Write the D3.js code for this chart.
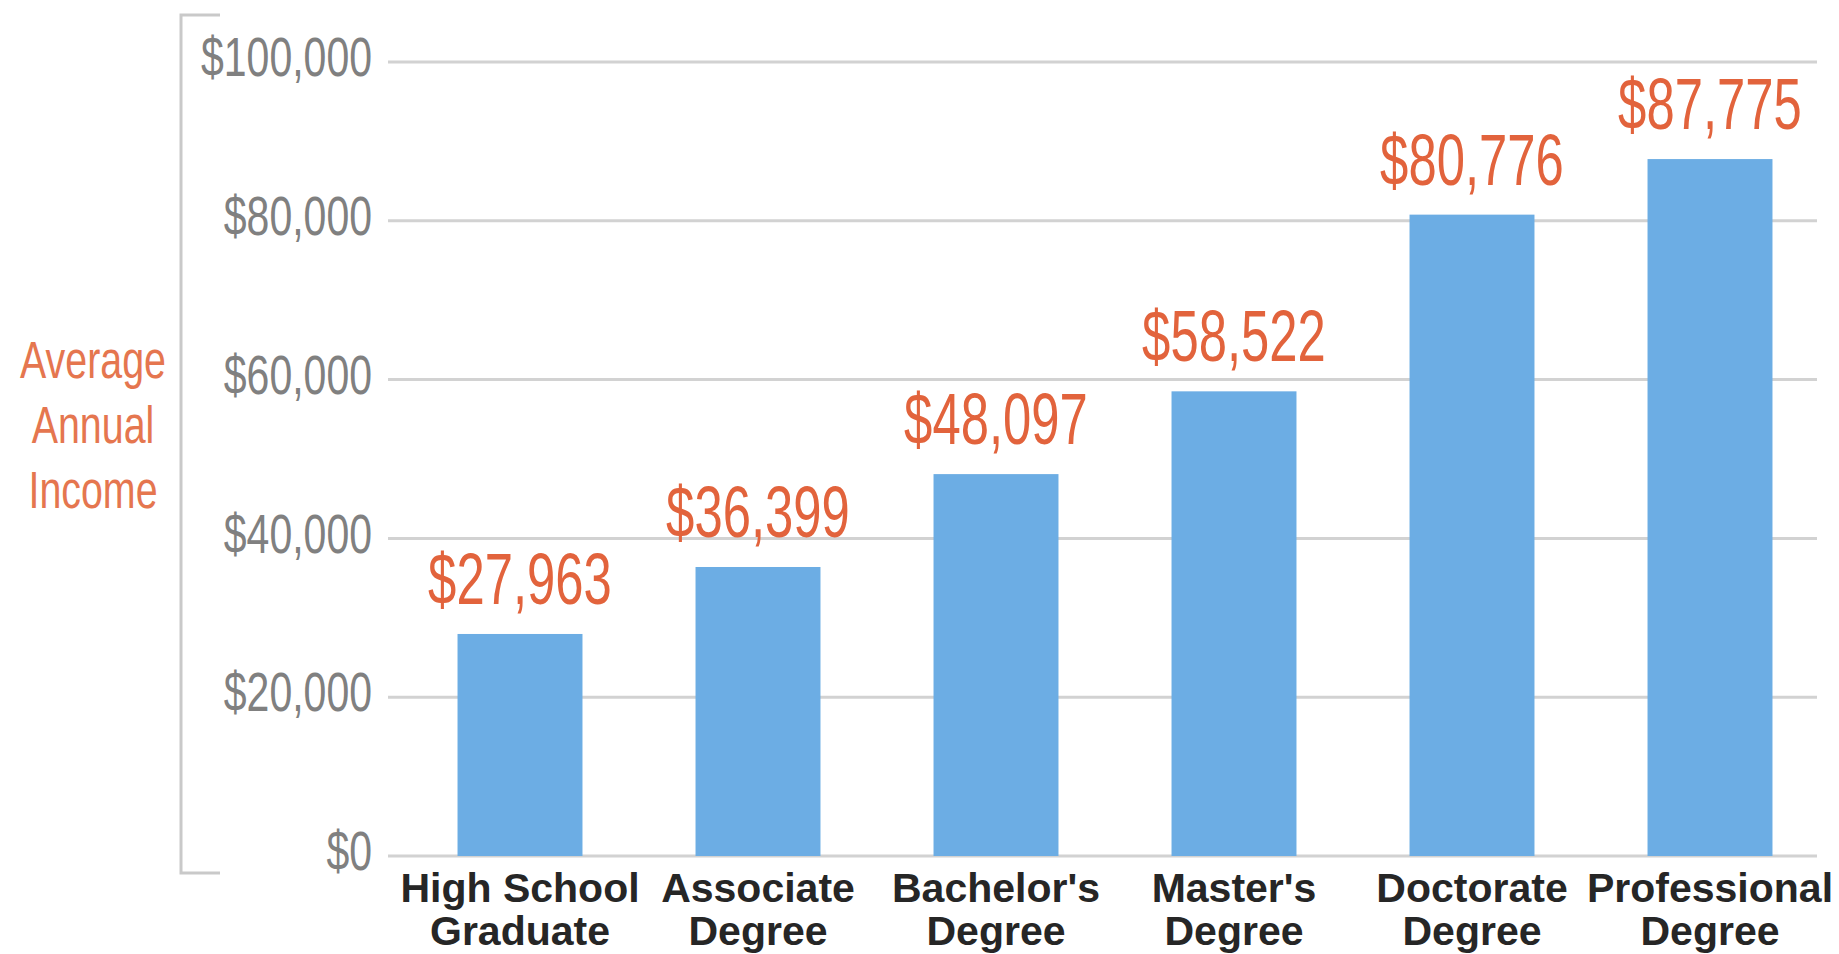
<!DOCTYPE html>
<html>
<head>
<meta charset="utf-8">
<script src="https://cdn.jsdelivr.net/npm/d3@7"></script>
<style>
  html, body { margin: 0; padding: 0; background: #ffffff; }
  svg { display: block; }
</style>
</head>
<body>
<svg id="chart" width="1839" height="954"></svg>
<script>
const categories = [
  ["High School", "Graduate"],
  ["Associate", "Degree"],
  ["Bachelor's", "Degree"],
  ["Master's", "Degree"],
  ["Doctorate", "Degree"],
  ["Professional", "Degree"]
];
const incomes = [27963, 36399, 48097, 58522, 80776, 87775];
const yTicks = [0, 20000, 40000, 60000, 80000, 100000];
const yTitle = ["Average", "Annual", "Income"];

const svg = d3.select("#chart");
const keys = categories.map(c => c.join(" "));

const x = d3.scaleBand().domain(keys).range([401, 1829]).paddingInner(0.475).paddingOuter(0.2375);
const y = d3.scaleLinear().domain([0, 100000]).range([856, 62]);

const orange = "#e2633c";
const grid = "#d2d2d2";
const fontFam = "'Liberation Sans', Arial, sans-serif";

// bracket on the left
svg.append("path")
  .attr("d", "M220,15 H181 V873 H220")
  .attr("fill", "none").attr("stroke", "#c9c9c9").attr("stroke-width", 3);

// gridlines
svg.append("g").selectAll("line").data(yTicks).join("line")
  .attr("x1", 388).attr("x2", 1817)
  .attr("y1", d => y(d)).attr("y2", d => y(d))
  .attr("stroke", grid).attr("stroke-width", 3);

// y axis labels
const fmt = d3.format("$,");
const yAxis = d3.axisLeft(y).tickValues(yTicks).tickSize(0).tickPadding(0).tickFormat(d => fmt(d));
const gy = svg.append("g").attr("transform", "translate(372,-4)").call(yAxis);
gy.select(".domain").remove();
gy.selectAll("text")
  .attr("font-family", fontFam)
  .attr("font-size", 50).attr("fill", "#808080")
  .attr("transform", "scale(0.82,1.1)");

// y title
svg.append("g").attr("transform", "translate(93,378) scale(0.82,1.08)")
  .append("text")
  .attr("text-anchor", "middle")
  .attr("font-family", fontFam)
  .attr("font-size", 48).attr("fill", "#e5764f")
  .selectAll("tspan").data(yTitle).join("tspan")
  .attr("x", 0).attr("y", (d, i) => i * 60)
  .text(d => d);

// bars
svg.append("g").selectAll("rect").data(incomes).join("rect")
  .attr("x", (d, i) => x(keys[i]))
  .attr("width", x.bandwidth())
  .attr("y", d => y(d))
  .attr("height", d => y(0) - y(d))
  .attr("fill", "#6cade4");

// value labels
svg.append("g").selectAll("text").data(incomes).join("text")
  .attr("transform", (d, i) => `translate(${x(keys[i]) + x.bandwidth() / 2},${y(d) - 30}) scale(0.82,1.18)`)
  .attr("text-anchor", "middle")
  .attr("font-family", fontFam)
  .attr("font-size", 62).attr("fill", orange)
  .text(d => fmt(d));

// category labels
const cl = svg.append("g").selectAll("text").data(categories).join("text")
  .attr("text-anchor", "middle")
  .attr("font-family", fontFam)
  .attr("font-weight", "bold")
  .attr("font-size", 41).attr("fill", "#262626")
  .attr("transform", (d, i) => `translate(${x(keys[i]) + x.bandwidth() / 2},902)`);
cl.selectAll("tspan").data(d => d).join("tspan")
  .attr("x", 0).attr("y", (d, i) => i * 43)
  .text(d => d);
</script>
</body>
</html>
